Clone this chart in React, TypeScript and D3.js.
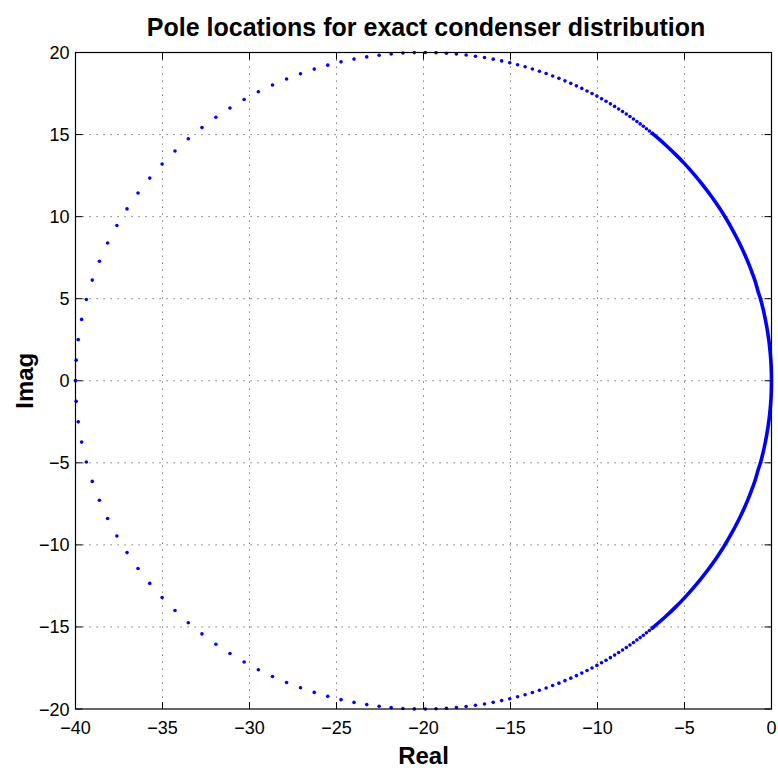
import React from "react";
import * as d3 from "d3";

// Pole locations (upper half; lower half is the complex conjugate)
const poleRe = [
  -40.0, -39.961, -39.843, -39.648, -39.378, -39.037, -38.627, -38.155, -37.623, -37.039,
  -36.407, -35.733, -35.023, -34.282, -33.517, -32.732, -31.932, -31.123, -30.308, -29.492,
  -28.678, -27.87, -27.069, -26.279, -25.502, -24.74, -23.993, -23.263, -22.551, -21.858,
  -21.184, -20.529, -19.894, -19.279, -18.684, -18.108, -17.551, -17.013, -16.494, -15.993,
  -15.509, -15.043, -14.593, -14.16, -13.742, -13.34, -12.952, -12.578, -12.218, -11.871,
  -11.536, -11.214, -10.903, -10.603, -10.315, -10.036, -9.768, -9.509, -9.259, -9.018,
  -8.785, -8.561, -8.344, -8.135, -7.932, -7.737, -7.548, -7.366, -7.189, -7.019, -6.854,
];
const poleIm = [
  0.0, 1.255, 2.503, 3.737, 4.949, 6.132, 7.281, 8.391, 9.456, 10.472,
  11.437, 12.348, 13.203, 14.001, 14.742, 15.424, 16.051, 16.622, 17.139, 17.604,
  18.019, 18.387, 18.709, 18.989, 19.228, 19.431, 19.598, 19.733, 19.837, 19.914,
  19.965, 19.993, 20.0, 19.987, 19.957, 19.911, 19.85, 19.776, 19.691, 19.595,
  19.489, 19.376, 19.255, 19.129, 18.996, 18.859, 18.718, 18.572, 18.424, 18.274,
  18.121, 17.967, 17.812, 17.655, 17.499, 17.342, 17.185, 17.028, 16.871, 16.715,
  16.56, 16.406, 16.252, 16.101, 15.948, 15.799, 15.651, 15.504, 15.358, 15.215, 15.072,
];
// Dense pole cluster near the origin (poles merge into a solid curve)
const denseRe = [
  -6.849, -6.133, -5.517, -4.986, -4.525, -4.0, -3.459, -3.019, -2.656, -2.353,
  -1.882, -1.538, -1.28, -1.081, -0.925, -0.784, -0.615, -0.488, -0.396, -0.274,
  -0.177, -0.0998, -0.0444, -0.016, 0.0,
];
const denseIm = [
  15.068, 14.412, 13.793, 13.213, 12.67, 12.0, 11.243, 10.566, 9.959, 9.412,
  8.47, 7.692, 7.04, 6.486, 6.012, 5.49, 4.923, 4.39, 3.96, 3.288,
  2.655, 1.995, 1.332, 0.8, 0.0,
];

const xTicks = [-40, -35, -30, -25, -20, -15, -10, -5, 0];
const yTicks = [-20, -15, -10, -5, 0, 5, 10, 15, 20];

const W = 778;
const H = 770;
const L = 75.5;
const R = 771.5;
const T = 52.5;
const B = 709;

const fmt = (v: number) => (v < 0 ? "\u2212" + Math.abs(v) : String(v));

export default function App() {
  const x = d3.scaleLinear().domain([-40, 0]).range([L, R]);
  const y = d3.scaleLinear().domain([-20, 20]).range([B, T]);

  const upper = denseRe.map((r, i) => [r, denseIm[i]] as [number, number]);
  const lower = upper
    .slice(0, -1)
    .reverse()
    .map(([r, im]) => [r, -im] as [number, number]);
  const densePts = [...upper, ...lower];
  const lineGen = d3
    .line<[number, number]>()
    .x((d) => x(d[0]))
    .y((d) => y(d[1]))
    .curve(d3.curveCatmullRom.alpha(0.5));

  const font = "'Liberation Sans', Arial, Helvetica, sans-serif";
  const tickLen = 7;

  return (
    <svg
      width={W}
      height={H}
      style={{ position: "absolute", left: 0, top: 0, background: "#fff" }}
      fontFamily={font}
    >
      <rect x={0} y={0} width={W} height={H} fill="#fff" />
      {/* grid */}
      <g stroke="#555" strokeWidth={1} strokeDasharray="1.2,5.8">
        {xTicks.slice(1, -1).map((t) => (
          <line key={"gx" + t} x1={x(t)} x2={x(t)} y1={T} y2={B} />
        ))}
        {yTicks.slice(1, -1).map((t) => (
          <line key={"gy" + t} x1={L} x2={R} y1={y(t)} y2={y(t)} />
        ))}
      </g>
      {/* ticks */}
      <g stroke="#000" strokeWidth={1}>
        {xTicks.map((t) => (
          <g key={"tx" + t}>
            <line x1={x(t)} x2={x(t)} y1={B} y2={B - tickLen} />
            <line x1={x(t)} x2={x(t)} y1={T} y2={T + tickLen} />
          </g>
        ))}
        {yTicks.map((t) => (
          <g key={"ty" + t}>
            <line x1={L} x2={L + tickLen} y1={y(t)} y2={y(t)} />
            <line x1={R} x2={R - tickLen} y1={y(t)} y2={y(t)} />
          </g>
        ))}
      </g>
      {/* data */}
      <path
        d={lineGen(densePts) || ""}
        fill="none"
        stroke="#0000ff"
        strokeWidth={3.6}
        strokeLinecap="round"
      />
      <g fill="#0000ff">
        {poleRe.map((r, i) => (
          <g key={"p" + i}>
            <circle cx={x(r)} cy={y(poleIm[i])} r={1.8} />
            <circle cx={x(r)} cy={y(-poleIm[i])} r={1.8} />
          </g>
        ))}
      </g>
      {/* box */}
      <rect x={L} y={T} width={R - L} height={B - T} fill="none" stroke="#000" strokeWidth={1.2} />
      {/* tick labels */}
      <g fontSize={18} fill="#000">
        {xTicks.map((t) => (
          <text key={"lx" + t} x={x(t)} y={B + 25} textAnchor="middle">
            {fmt(t)}
          </text>
        ))}
        {yTicks.map((t) => (
          <text key={"ly" + t} x={L - 6} y={y(t) + 6.5} textAnchor="end">
            {fmt(t)}
          </text>
        ))}
      </g>
      {/* titles */}
      <text x={426} y={36} textAnchor="middle" fontSize={25} fontWeight="bold">
        Pole locations for exact condenser distribution
      </text>
      <text x={(L + R) / 2} y={764} textAnchor="middle" fontSize={24} fontWeight="bold">
        Real
      </text>
      <text
        transform={`translate(33,${(T + B) / 2}) rotate(-90)`}
        textAnchor="middle"
        fontSize={24}
        fontWeight="bold"
      >
        Imag
      </text>
    </svg>
  );
}
